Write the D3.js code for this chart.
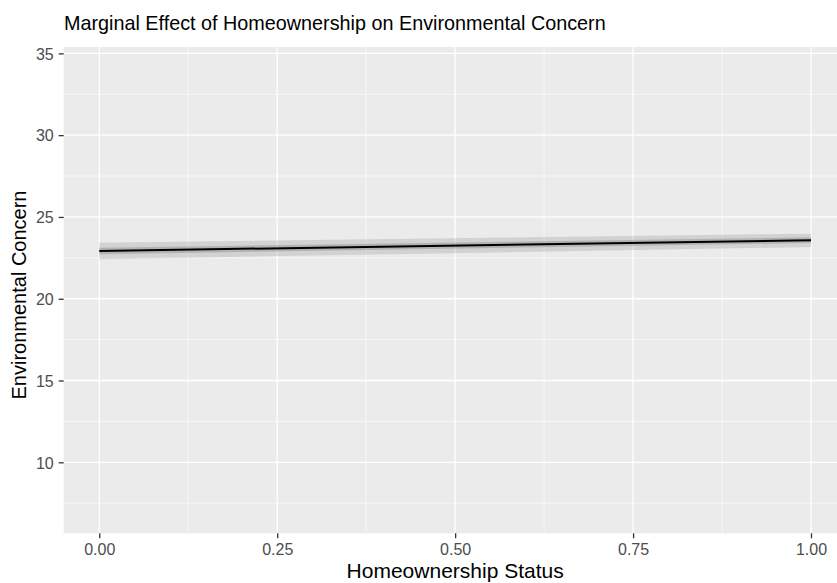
<!DOCTYPE html>
<html><head><meta charset="utf-8">
<script src="https://cdn.jsdelivr.net/npm/d3@7"></script>
<style>body{margin:0;background:#fff;} svg{display:block;}</style>
</head><body>
<script>
// Data
const xValues = [0, 1];
const fitValues = [22.92, 23.58];
const outerLower = [22.42, 23.16];
const outerUpper = [23.42, 23.98];
const innerLower = [22.72, 23.40];
const innerUpper = [23.12, 23.76];
const xTicks = [0, 0.25, 0.5, 0.75, 1];
const xMinor = [0.125, 0.375, 0.625, 0.875];
const yTicks = [10, 15, 20, 25, 30, 35];
const yMinor = [7.5, 12.5, 17.5, 22.5, 27.5, 32.5];
const titleText = "Marginal Effect of Homeownership on Environmental Concern";
const xTitle = "Homeownership Status";
const yTitle = "Environmental Concern";

const W = 837, H = 583;
const panel = {left: 63.7, right: 846.6, top: 47, bottom: 533.3};
const font = "'Liberation Sans', Arial, Helvetica, sans-serif";

const svg = d3.select("body").append("svg").attr("width", W).attr("height", H);

const x = d3.scaleLinear().domain([-0.05, 1.05]).range([panel.left, panel.right]);
const y = d3.scaleLinear().domain([5.66, 35.39]).range([panel.bottom, panel.top]);

svg.append("rect").attr("x", panel.left).attr("y", panel.top)
  .attr("width", panel.right - panel.left).attr("height", panel.bottom - panel.top)
  .attr("fill", "#EBEBEB");

const grid = svg.append("g");
grid.selectAll(".ym").data(yMinor).join("line")
  .attr("x1", panel.left).attr("x2", panel.right)
  .attr("y1", d => y(d)).attr("y2", d => y(d))
  .attr("stroke", "#fff").attr("stroke-width", 0.6);
grid.selectAll(".xm").data(xMinor).join("line")
  .attr("y1", panel.top).attr("y2", panel.bottom)
  .attr("x1", d => x(d)).attr("x2", d => x(d))
  .attr("stroke", "#fff").attr("stroke-width", 0.6);
grid.selectAll(".yM").data(yTicks).join("line")
  .attr("x1", panel.left).attr("x2", panel.right)
  .attr("y1", d => y(d)).attr("y2", d => y(d))
  .attr("stroke", "#fff").attr("stroke-width", 1.3);
grid.selectAll(".xM").data(xTicks).join("line")
  .attr("y1", panel.top).attr("y2", panel.bottom)
  .attr("x1", d => x(d)).attr("x2", d => x(d))
  .attr("stroke", "#fff").attr("stroke-width", 1.3);

const pts = xValues.map((v, i) => ({x: v, fit: fitValues[i], ol: outerLower[i], ou: outerUpper[i], il: innerLower[i], iu: innerUpper[i]}));

svg.append("path").datum(pts)
  .attr("d", d3.area().x(d => x(d.x)).y0(d => y(d.ol)).y1(d => y(d.ou)))
  .attr("fill", "#999").attr("fill-opacity", 0.3);
svg.append("path").datum(pts)
  .attr("d", d3.area().x(d => x(d.x)).y0(d => y(d.il)).y1(d => y(d.iu)))
  .attr("fill", "#777").attr("fill-opacity", 0.35);
svg.append("path").datum(pts)
  .attr("d", d3.line().x(d => x(d.x)).y(d => y(d.fit)))
  .attr("fill", "none").attr("stroke", "#000").attr("stroke-width", 2);

// Axes
const xAxis = svg.append("g").attr("transform", `translate(0,${panel.bottom})`)
  .call(d3.axisBottom(x).tickValues(xTicks).tickFormat(d3.format(".2f")).tickSize(5).tickPadding(5));
const yAxis = svg.append("g").attr("transform", `translate(${panel.left},0)`)
  .call(d3.axisLeft(y).tickValues(yTicks).tickFormat(d3.format("d")).tickSize(5).tickPadding(5));
[xAxis, yAxis].forEach(a => {
  a.select(".domain").remove();
  a.selectAll(".tick line").attr("stroke", "#333").attr("stroke-width", 1.3);
  a.selectAll(".tick text").attr("fill", "#4D4D4D").style("font-family", font).style("font-size", "16px");
});
yAxis.selectAll(".tick text").attr("dy", "0.36em");
xAxis.selectAll(".tick text").attr("dy", "0.72em");

svg.append("text").attr("x", 64).attr("y", 30)
  .style("font-family", font).style("font-size", "19.8px").attr("fill", "#000")
  .text(titleText);
svg.append("text").attr("x", (panel.left + panel.right) / 2).attr("y", 578)
  .attr("text-anchor", "middle")
  .style("font-family", font).style("font-size", "21px").attr("fill", "#000")
  .text(xTitle);
svg.append("text").attr("transform", `translate(26,295) rotate(-90)`)
  .attr("text-anchor", "middle")
  .style("font-family", font).style("font-size", "20px").attr("fill", "#000")
  .text(yTitle);
</script>
</body></html>
